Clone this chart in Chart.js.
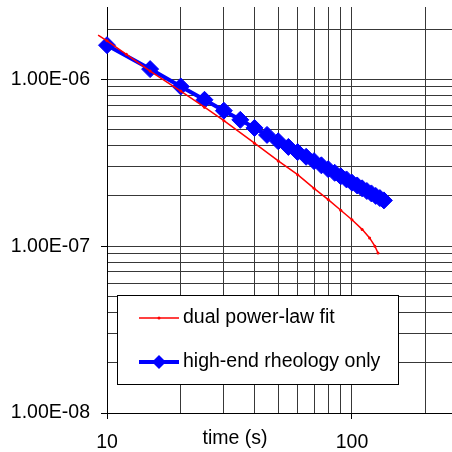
<!DOCTYPE html>
<html>
  <head>
    <meta charset="utf-8">
    <style type="text/css">
      body { margin: 0; background: #fff; }
      .chart-container { width: 452px; height: 452px; }
    </style>
  </head>
  <body>
    <script src="https://cdnjs.cloudflare.com/ajax/libs/Chart.js/4.4.1/chart.umd.min.js"></script>

    <div class="chart-container">
      <canvas id="myChart" width="452" height="452"></canvas>
    </div>

    <script>
      /* datas */
      const fitTimes  = [9.2, 10, 12, 15, 20, 25, 30, 40, 50, 60, 70, 80, 90, 100, 110, 118, 124, 127.7];
      const fitValues = [1.84e-6, 1.70e-6, 1.41e-6, 1.12e-6, 8.5e-7, 6.8e-7, 5.65e-7, 4.14e-7, 3.24e-7, 2.68e-7,
                         2.22e-7, 1.90e-7, 1.64e-7, 1.44e-7, 1.26e-7, 1.12e-7, 1.00e-7, 9.1e-8];

      const rheoTimes  = [10, 15, 20, 25, 30, 35, 40, 45, 50, 55, 60, 65, 70, 75, 80, 85, 90, 95, 100,
                          105, 110, 115, 120, 125, 130, 135];
      const rheoValues = [1.60e-6, 1.15e-6, 9.05e-7, 7.53e-7, 6.48e-7, 5.71e-7, 5.11e-7, 4.64e-7, 4.25e-7, 3.93e-7,
                          3.66e-7, 3.43e-7, 3.23e-7, 3.05e-7, 2.89e-7, 2.75e-7, 2.62e-7, 2.51e-7, 2.40e-7,
                          2.31e-7, 2.22e-7, 2.14e-7, 2.07e-7, 2.00e-7, 1.94e-7, 1.88e-7];

      const seriesNames = ['dual power-law fit', 'high-end rheology only'];

      const xTicks = [10, 20, 30, 40, 50, 60, 70, 80, 90, 100, 200];
      const xLabelValues = [10, 100];
      const xTickLabels = ['10', '100'];

      const yTicks = [1e-8, 2e-8, 3e-8, 4e-8, 5e-8, 6e-8, 7e-8, 8e-8, 9e-8,
                      1e-7, 2e-7, 3e-7, 4e-7, 5e-7, 6e-7, 7e-7, 8e-7, 9e-7,
                      1e-6, 2e-6];
      const yLabelValues = [1e-8, 1e-7, 1e-6];
      const yTickLabels = ['1.00E-08', '1.00E-07', '1.00E-06'];

      const FONT = "'Liberation Sans', Arial, sans-serif";

      const toPoints = (xs, ys) => xs.map((x, i) => ({x: x, y: ys[i]}));

      // kill the label overflow padding so the plot area sits where the excel one does
      const noPad = (scale) => {
        scale.paddingTop = 0;
        scale.paddingBottom = 0;
        scale.paddingLeft = 0;
        scale.paddingRight = 0;
      };

      /* legend box + axis title drawn inside the plot like the excel one */
      const legendBox = {
        id: 'legendBox',
        afterDatasetsDraw(chart) {
          const ctx = chart.ctx;
          ctx.save();
          ctx.fillStyle = '#fff';
          ctx.fillRect(117.5, 295.5, 281, 89);
          ctx.strokeStyle = '#000';
          ctx.lineWidth = 1;
          ctx.strokeRect(117.5, 295.5, 281, 89);

          const rows = [318, 362];
          chart.data.datasets.forEach((ds, i) => {
            const y = rows[i];
            ctx.strokeStyle = ds.borderColor;
            ctx.lineWidth = ds.borderWidth;
            ctx.beginPath();
            ctx.moveTo(139, y);
            ctx.lineTo(179, y);
            ctx.stroke();
            ctx.fillStyle = ds.borderColor;
            if (i === 0) {
              ctx.beginPath();
              ctx.arc(159, y, 1.5, 0, Math.PI * 2);
              ctx.fill();
            } else {
              ctx.beginPath();
              ctx.moveTo(159, y - 7);
              ctx.lineTo(166, y);
              ctx.lineTo(159, y + 7);
              ctx.lineTo(152, y);
              ctx.closePath();
              ctx.fill();
            }
            ctx.fillStyle = '#000';
            ctx.font = '19.5px ' + FONT;
            ctx.textBaseline = 'middle';
            ctx.textAlign = 'left';
            ctx.fillText(ds.label, 183, y);
          });

          ctx.textAlign = 'center';
          ctx.fillText('time (s)', 235, 439);
          ctx.restore();
        }
      };

      const myChart = new Chart('myChart', {
        type: 'line',
        data: {
          datasets: [{
            label: seriesNames[0],
            data: toPoints(fitTimes, fitValues),
            borderColor: '#ff0000',
            backgroundColor: '#ff0000',
            borderWidth: 1.5,
            pointRadius: 1.5,
            pointBorderWidth: 0,
            tension: 0,
            clip: false
          }, {
            label: seriesNames[1],
            data: toPoints(rheoTimes, rheoValues),
            borderColor: '#0000ff',
            backgroundColor: '#0000ff',
            borderWidth: 4,
            pointStyle: 'rectRot',
            pointRadius: 8.5,
            pointBorderWidth: 1,
            tension: 0,
            clip: false
          }]
        },
        options: {
          responsive: false,
          animation: false,
          events: [],
          layout: { autoPadding: false, padding: { top: 7, right: 0, left: 0, bottom: 0 } },
          plugins: {
            legend: { display: false },
            tooltip: { enabled: false }
          },
          scales: {
            x: {
              type: 'logarithmic',
              min: 10,
              max: 256,
              afterBuildTicks: (scale) => {
                scale.ticks = xTicks.map(v => ({value: v}));
              },
              afterFit: (scale) => { scale.height = 39; noPad(scale); },
              grid: {
                color: '#383838',
                lineWidth: 1,
                tickLength: 6,
                tickColor: (c) => (c.tick && xLabelValues.includes(c.tick.value)) ? '#000' : 'rgba(0,0,0,0)'
              },
              border: { color: '#000', width: 1 },
              ticks: {
                autoSkip: false,
                maxRotation: 0,
                padding: 12,
                color: '#000',
                font: { family: FONT, size: 19.5 },
                callback: (value) => {
                  const i = xLabelValues.indexOf(value);
                  return i >= 0 ? xTickLabels[i] : '';
                }
              }
            },
            y: {
              type: 'logarithmic',
              min: 1e-8,
              max: 2.71e-6,
              afterBuildTicks: (scale) => {
                scale.ticks = yTicks.map(v => ({value: v}));
              },
              afterFit: (scale) => { scale.width = 107; noPad(scale); },
              grid: {
                color: '#383838',
                lineWidth: 1,
                tickLength: 6,
                tickColor: (c) => (c.tick && yLabelValues.includes(c.tick.value)) ? '#000' : 'rgba(0,0,0,0)'
              },
              border: { color: '#000', width: 1 },
              ticks: {
                autoSkip: false,
                padding: 11,
                color: '#000',
                font: { family: FONT, size: 19.5 },
                callback: (value) => {
                  const i = yLabelValues.indexOf(value);
                  return i >= 0 ? yTickLabels[i] : '';
                }
              }
            }
          }
        },
        plugins: [legendBox]
      });
    </script>
  </body>
</html>
